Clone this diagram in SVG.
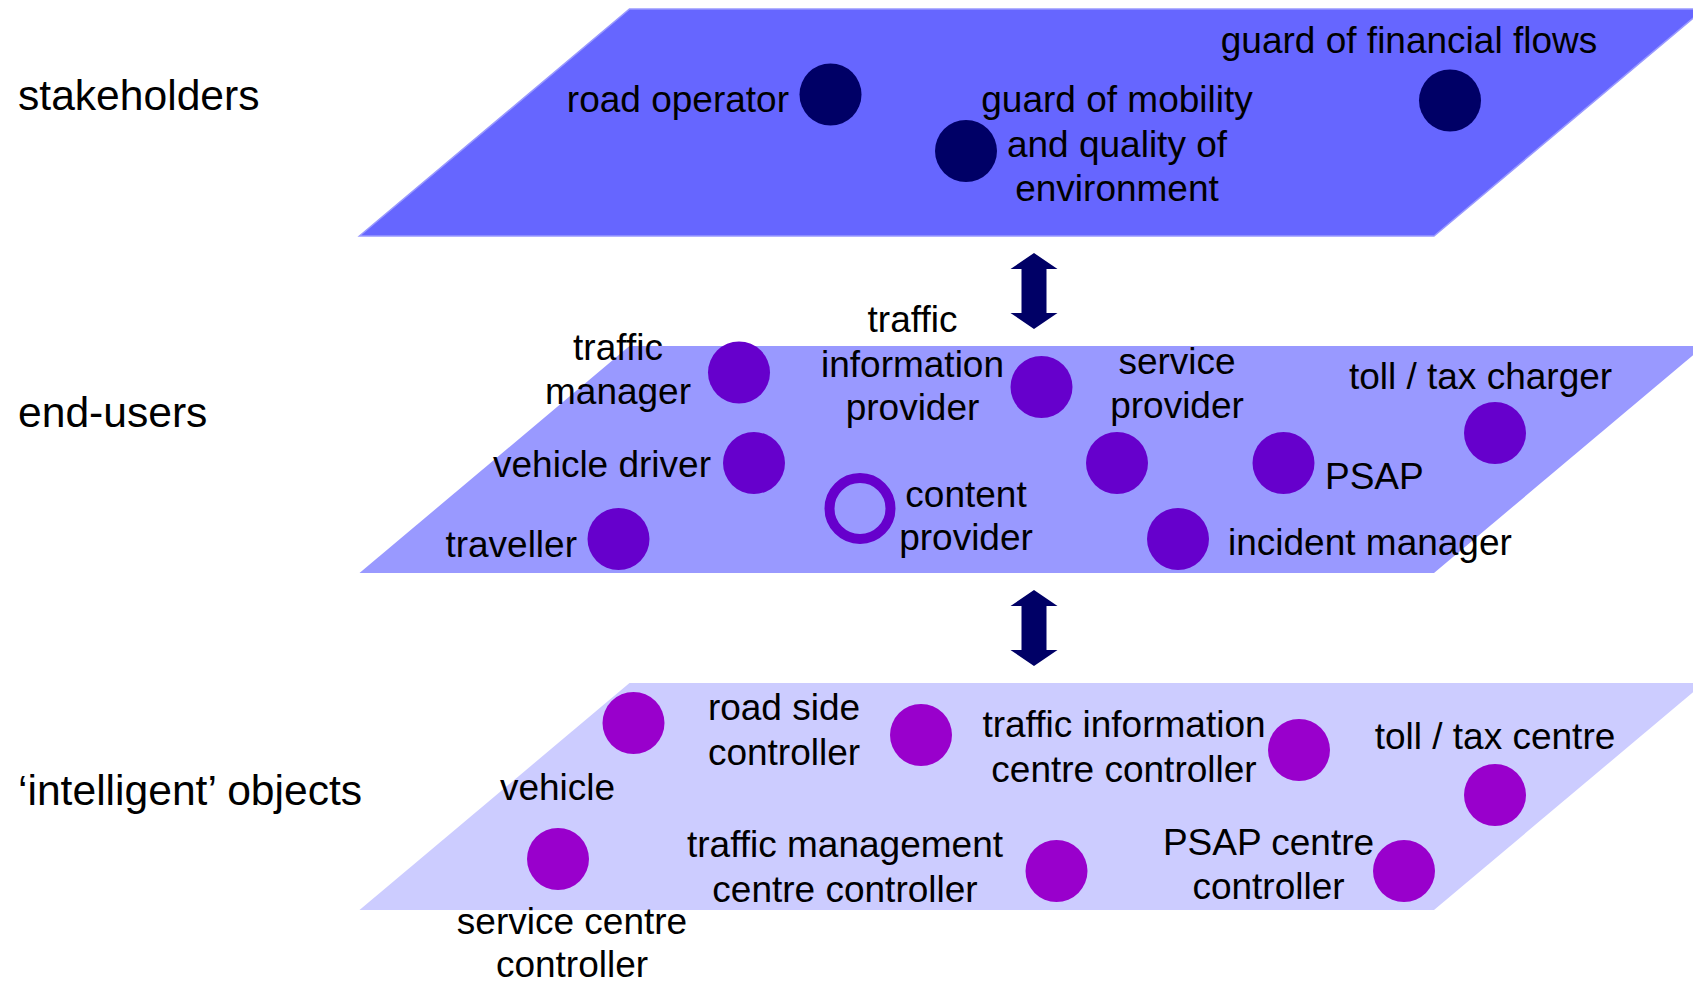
<svg xmlns="http://www.w3.org/2000/svg" width="1693" height="984" viewBox="0 0 1693 984">
<style>
text{font-family:"Liberation Sans",Arial,Helvetica,sans-serif;fill:#000;font-size:37px}
.lbl{font-size:42.6px}
.m{text-anchor:middle}
.e{text-anchor:end}
.s{fill:#000066}
.u{fill:#6600cc}
.o{fill:#9900cc}
</style>
<defs>
<path id="arr" d="M1034,253 L1057.5,269 L1046.5,269 L1046.5,313 L1057.5,313 L1034,329 L1010.5,313 L1021.5,313 L1021.5,269 L1010.5,269 Z" fill="#000066"/>
</defs>
<rect width="1693" height="984" fill="#fff"/>
<g id="planes">
<polygon id="plane-stakeholders" points="629.5,9 1704,9 1434,236 359.5,236" fill="#6666ff" stroke="#9999ff" stroke-width="1.5"/>
<polygon id="plane-endusers" points="629.5,346 1704,346 1434,573 359.5,573" fill="#9999ff"/>
<polygon id="plane-objects" points="629.5,683 1704,683 1434,910 359.5,910" fill="#ccccff"/>
</g>
<g id="layer-labels">
<text class="lbl" x="18" y="110">stakeholders</text>
<text class="lbl" x="18" y="427">end-users</text>
<text class="lbl" x="18" y="805">‘intelligent’ objects</text>
</g>
<g id="connectors">
<use href="#arr"/>
<use href="#arr" transform="translate(0,337)"/>
</g>
<g id="road-operator"><circle class="s" cx="830.5" cy="94.5" r="31"/><text class="e" x="789" y="112">road operator</text></g>
<g id="guard-mobility"><circle class="s" cx="966" cy="151" r="31"/><text class="m" x="1117" y="112">guard of mobility</text><text class="m" x="1117" y="156.5">and quality of</text><text class="m" x="1117" y="201">environment</text></g>
<g id="guard-financial"><circle class="s" cx="1450" cy="100.5" r="31"/><text class="m" x="1409" y="53">guard of financial flows</text></g>

<g id="traffic-manager"><circle class="u" cx="739" cy="372.5" r="31"/><text class="m" x="618" y="360">traffic</text><text class="m" x="618" y="404">manager</text></g>
<g id="traffic-info-provider"><circle class="u" cx="1041.5" cy="387" r="31"/><text class="m" x="912.5" y="332">traffic</text><text class="m" x="912.5" y="377">information</text><text class="m" x="912.5" y="420">provider</text></g>
<g id="service-provider"><circle class="u" cx="1117" cy="463" r="31"/><text class="m" x="1177" y="374">service</text><text class="m" x="1177" y="418">provider</text></g>
<g id="toll-tax-charger"><circle class="u" cx="1495" cy="433" r="31"/><text class="m" x="1480.5" y="389">toll / tax charger</text></g>
<g id="vehicle-driver"><circle class="u" cx="754" cy="463" r="31"/><text class="e" x="711" y="477">vehicle driver</text></g>
<g id="psap"><circle class="u" cx="1283.5" cy="463" r="31"/><text x="1325" y="489">PSAP</text></g>
<g id="traveller"><circle class="u" cx="618.5" cy="539" r="31"/><text class="e" x="577" y="557">traveller</text></g>
<g id="content-provider"><circle cx="860" cy="508.5" r="30.5" fill="none" stroke="#6600cc" stroke-width="10"/><text class="m" x="966" y="507">content</text><text class="m" x="966" y="550">provider</text></g>
<g id="incident-manager"><circle class="u" cx="1178" cy="539" r="31"/><text x="1228" y="555">incident manager</text></g>

<g id="vehicle"><circle class="o" cx="633.5" cy="723" r="31"/><text class="m" x="557.5" y="800">vehicle</text></g>
<g id="road-side-controller"><circle class="o" cx="921" cy="735" r="31"/><text class="m" x="784" y="720">road side</text><text class="m" x="784" y="765">controller</text></g>
<g id="traffic-info-centre"><circle class="o" cx="1299" cy="750" r="31"/><text class="m" x="1124" y="737">traffic information</text><text class="m" x="1124" y="782">centre controller</text></g>
<g id="toll-tax-centre"><circle class="o" cx="1495" cy="795" r="31"/><text class="m" x="1495" y="749">toll / tax centre</text></g>
<g id="service-centre"><circle class="o" cx="558" cy="859" r="31"/><text class="m" x="572" y="934">service centre</text><text class="m" x="572" y="977">controller</text></g>
<g id="traffic-mgmt-centre"><circle class="o" cx="1056.5" cy="871" r="31"/><text class="m" x="845" y="857">traffic management</text><text class="m" x="845" y="902">centre controller</text></g>
<g id="psap-centre"><circle class="o" cx="1404" cy="871" r="31"/><text class="m" x="1268.5" y="855">PSAP centre</text><text class="m" x="1268.5" y="899">controller</text></g>
</svg>
